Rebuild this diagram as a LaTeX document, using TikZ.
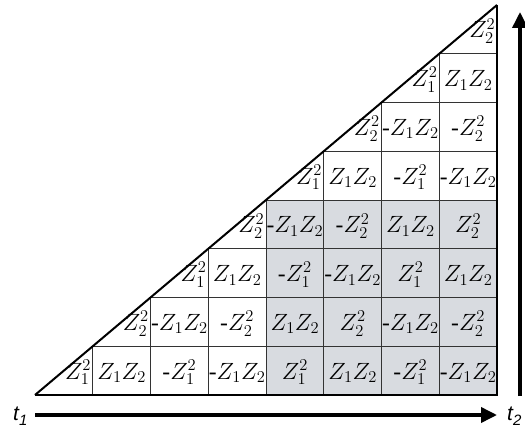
\documentclass[tikz,border=0pt]{standalone}
\usepackage{fix-cm}
\usepackage{fontspec}
\setmainfont{Liberation Serif}
\newfontfamily\tfont{Liberation Sans}
\usetikzlibrary{arrows.meta}
\DeclareMathSizes{23.5}{23.5}{16.5}{13}
\definecolor{cellgrey}{RGB}{216,219,224}
\newcommand\ZaSq{$Z_1^2$}
\newcommand\ZbSq{$Z_2^2$}
\newcommand\ZaZb{$Z_1Z_2$}
\newcommand\cellsq[3]{%
  \pgfmathsetmacro\cellx{35+57.75*(#2-0.5)}%
  \pgfmathsetmacro\celly{395-48.75*(#1-1)-16}%
  \node[lbl, anchor=base] (c#1#2) at (\cellx,\celly) {#3};}
\newcommand\celltri[3]{%
  \pgfmathsetmacro\cellx{35+57.75*#2-1.5}%
  \pgfmathsetmacro\celly{395-48.75*(#1-1)-16}%
  \node[lbl, anchor=base east] (c#1#2) at (\cellx,\celly) {#3};}
\begin{document}
\begin{tikzpicture}[x=1pt,y=-1pt,
  gridline/.style={draw=black!80, line width=0.9pt},
  edgeline/.style={draw=black, line width=1.6pt},
  diagline/.style={draw=black, line width=2pt},
  axisarrow/.style={draw=black, line width=3.6pt, -{Triangle[length=16pt,width=15pt]}},
  lbl/.style={inner sep=0pt, font=\fontsize{23.5}{28}\selectfont},
  tlabel/.style={inner sep=0pt, font=\tfont\itshape\fontsize{21}{21}\selectfont}]
\useasboundingbox (0,0) rectangle (525,428);
% grey block
\fill[cellgrey] (35+57.75*4,395-48.75*4) rectangle (35+57.75*8,395);
% horizontal grid lines
\foreach \r in {1,...,7}{
  \draw[gridline] (35+57.75*\r,395-48.75*\r) -- (35+57.75*8,395-48.75*\r);
}
% vertical grid lines
\foreach \c in {1,...,7}{
  \draw[gridline] (35+57.75*\c,395) -- (35+57.75*\c,395-48.75*\c);
}
% outline
\coordinate (bl) at (35,395);
\coordinate (br) at (35+57.75*8,395);
\coordinate (tr) at (35+57.75*8,5);
\draw[edgeline] (bl) -- (br) -- (tr);
\draw[diagline] (bl) -- (tr);
% row 1
\celltri{1}{1}{\ZaSq}
\cellsq{1}{2}{\ZaZb}
\cellsq{1}{3}{-\ZaSq}
\cellsq{1}{4}{-\ZaZb}
\cellsq{1}{5}{\ZaSq}
\cellsq{1}{6}{\ZaZb}
\cellsq{1}{7}{-\ZaSq}
\cellsq{1}{8}{-\ZaZb}
% row 2
\celltri{2}{2}{\ZbSq}
\cellsq{2}{3}{-\ZaZb}
\cellsq{2}{4}{-\ZbSq}
\cellsq{2}{5}{\ZaZb}
\cellsq{2}{6}{\ZbSq}
\cellsq{2}{7}{-\ZaZb}
\cellsq{2}{8}{-\ZbSq}
% row 3
\celltri{3}{3}{\ZaSq}
\cellsq{3}{4}{\ZaZb}
\cellsq{3}{5}{-\ZaSq}
\cellsq{3}{6}{-\ZaZb}
\cellsq{3}{7}{\ZaSq}
\cellsq{3}{8}{\ZaZb}
% row 4
\celltri{4}{4}{\ZbSq}
\cellsq{4}{5}{-\ZaZb}
\cellsq{4}{6}{-\ZbSq}
\cellsq{4}{7}{\ZaZb}
\cellsq{4}{8}{\ZbSq}
% row 5
\celltri{5}{5}{\ZaSq}
\cellsq{5}{6}{\ZaZb}
\cellsq{5}{7}{-\ZaSq}
\cellsq{5}{8}{-\ZaZb}
% row 6
\celltri{6}{6}{\ZbSq}
\cellsq{6}{7}{-\ZaZb}
\cellsq{6}{8}{-\ZbSq}
% row 7
\celltri{7}{7}{\ZaSq}
\cellsq{7}{8}{\ZaZb}
% row 8
\celltri{8}{8}{\ZbSq}
% axes
\node[tlabel, anchor=base west] (t1) at (13,420) {t\raisebox{-5pt}{\fontsize{15}{15}\selectfont 1}};
\node[tlabel, anchor=base west] (t2) at (507,420) {t\raisebox{-5pt}{\fontsize{15}{15}\selectfont 2}};
\coordinate (hstart) at (35,415);
\coordinate (hend) at (497,415);
\coordinate (vstart) at (520,396);
\coordinate (vend) at (520,12);
\draw[axisarrow] (hstart) -- (hend);
\draw[axisarrow] (vstart) -- (vend);
\end{tikzpicture}
\end{document}
